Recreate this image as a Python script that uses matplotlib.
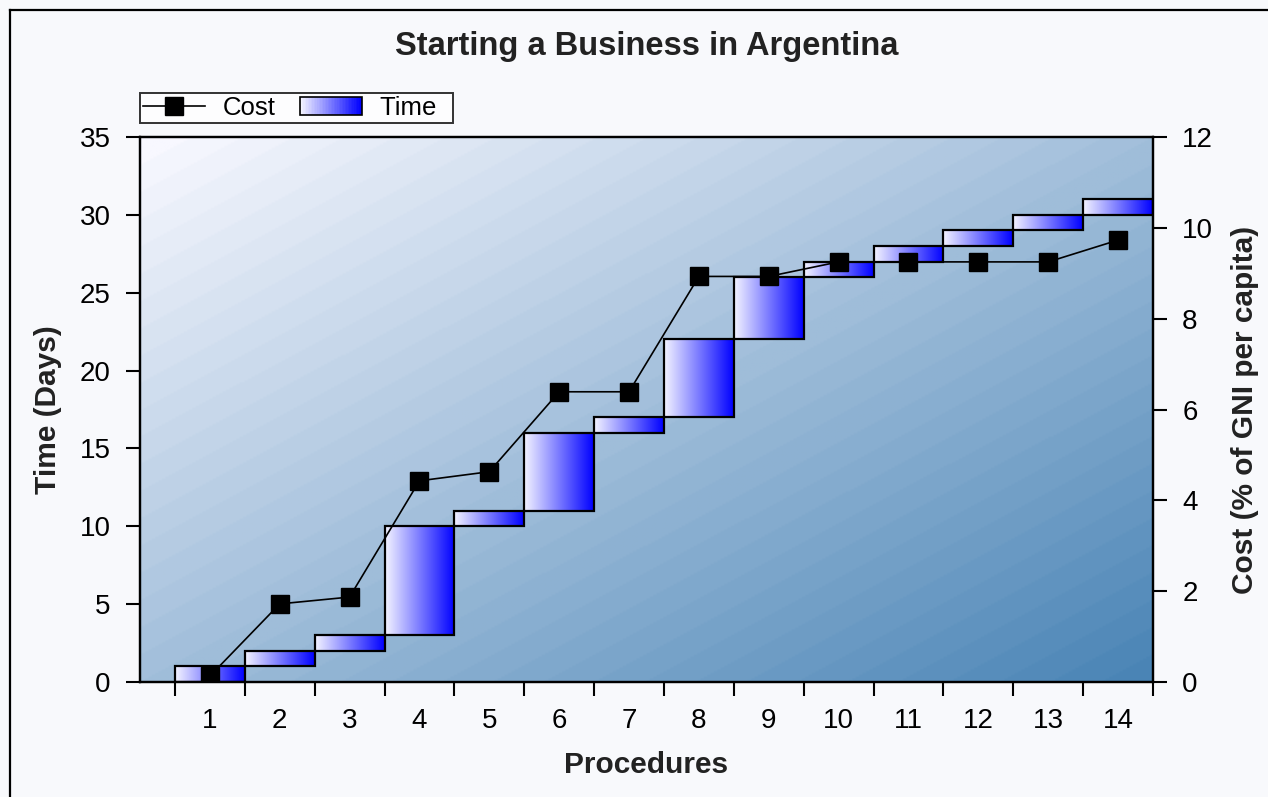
import numpy as np
import matplotlib
matplotlib.use("Agg")
import matplotlib.pyplot as plt
from matplotlib.patches import Rectangle
from matplotlib.lines import Line2D
from matplotlib.legend_handler import HandlerBase
from matplotlib.colors import LinearSegmentedColormap

# ---- data ----
procedures = list(range(1, 15))
time_start = [0, 1, 2, 3, 10, 11, 16, 17, 22, 26, 27, 28, 29, 30]
time_end = [1, 2, 3, 10, 11, 16, 17, 22, 26, 27, 28, 29, 30, 31]
cost = [0.13, 1.72, 1.87, 4.43, 4.63, 6.39, 6.39, 8.93, 8.93, 9.25, 9.25, 9.25, 9.25, 9.73]
time_ticks = [0, 5, 10, 15, 20, 25, 30, 35]
cost_ticks = [0, 2, 4, 6, 8, 10, 12]

plt.rcParams['font.family'] = ['Liberation Sans', 'DejaVu Sans']

W, H = 1268, 797
fig = plt.figure(figsize=(W / 100, H / 100), dpi=100)
fig.patch.set_facecolor('#f8f9fc')

# outer frame (top and left edges)
fig.add_artist(Line2D([10 / W, 10 / W], [-0.01, 1 - 10 / H], transform=fig.transFigure,
                      color='black', lw=1.6))
fig.add_artist(Line2D([10 / W, 1.01], [1 - 10 / H, 1 - 10 / H], transform=fig.transFigure,
                      color='black', lw=1.6))

x0, x1, y0, y1 = 140, 1153, 137, 682
ax = fig.add_axes([x0 / W, 1 - y1 / H, (x1 - x0) / W, (y1 - y0) / H])

# plot-area background: diagonal gradient with soft banding
c_light = np.array([248, 248, 255]) / 255
c_dark = np.array([70, 130, 180]) / 255
gh, gw = 300, 600
u = np.linspace(0, 1, gw)[None, :]
v = np.linspace(0, 1, gh)[:, None]
t = (u + v) / 2
t = np.floor(t * 40) / 40
bg = c_light[None, None, :] * (1 - t[..., None]) + c_dark[None, None, :] * t[..., None]
ax.imshow(bg, extent=(0, 1, 0, 1), transform=ax.transAxes, aspect='auto',
          interpolation='bilinear', zorder=0)

# floating time bars with horizontal white-to-blue gradient
bar_cmap = LinearSegmentedColormap.from_list('wb', ['#f4f4ff', '#0000ff'])
grad = np.linspace(0, 1, 256)[None, :]
for p, s, e in zip(procedures, time_start, time_end):
    ax.imshow(grad, cmap=bar_cmap, extent=(p - 0.5, p + 0.5, s, e), aspect='auto',
              interpolation='bilinear', zorder=2)
    ax.add_patch(Rectangle((p - 0.5, s), 1, e - s, fill=False, ec='black', lw=1.6, zorder=3))

ax.set_xlim(0, 14.5)
ax.set_ylim(0, 35)
ax.set_yticks(time_ticks)
ax.set_xticks(np.arange(0.5, 15, 1))
ax.set_xticklabels([])
ax.set_xticks(procedures, minor=True)
ax.set_xticklabels([str(p) for p in procedures], minor=True)
ax.tick_params(axis='x', which='major', direction='out', length=10, width=1.5)
ax.tick_params(axis='x', which='minor', length=0, pad=19, labelsize=20)
ax.tick_params(axis='y', direction='out', length=10, width=1.5, pad=11, labelsize=20)
for sp in ax.spines.values():
    sp.set_linewidth(1.6)

# cost line on the secondary axis
ax2 = ax.twinx()
ax2.plot(procedures, cost, color='black', lw=1.2, marker='s', markersize=12.5,
         markerfacecolor='black', markeredgecolor='black', zorder=5)
ax2.set_ylim(0, 12)
ax2.set_yticks(cost_ticks)
ax2.tick_params(axis='y', direction='out', length=10, width=1.5, pad=11, labelsize=20)
for sp in ax2.spines.values():
    sp.set_linewidth(1.6)

# labels and title
fig.text(0.5 * (x0 + x1) / W, 1 - 47 / H, 'Starting a Business in Argentina',
         ha='center', va='center', fontsize=23.5, fontweight='bold', color='#222222')
fig.text(0.5 * (x0 + x1) / W, 1 - 765 / H, 'Procedures', ha='center', va='center',
         fontsize=21.5, fontweight='bold', color='#222222')
fig.text(48 / W, 1 - 0.5 * (y0 + y1) / H, 'Time (Days)', ha='center', va='center',
         rotation=90, fontsize=21.5, fontweight='bold', color='#222222')
fig.text(1245 / W, 1 - 0.5 * (y0 + y1) / H, 'Cost (% of GNI per capita)', ha='center',
         va='center', rotation=90, fontsize=21.5, fontweight='bold', color='#222222')


class GradientHandler(HandlerBase):
    def create_artists(self, legend, orig_handle, xdescent, ydescent, width, height,
                       fontsize, trans):
        n = 40
        arts = []
        for k in range(n):
            arts.append(Rectangle((-xdescent + k * width / n, -ydescent), width / n + 0.3,
                                  height, fc=bar_cmap(k / (n - 1)), ec='none',
                                  transform=trans))
        arts.append(Rectangle((-xdescent, -ydescent), width, height, fill=False,
                              ec='black', lw=1.2, transform=trans))
        return arts


cost_handle = Line2D([], [], color='black', lw=1.2, marker='s', markersize=12.5,
                     markerfacecolor='black')
time_handle = Rectangle((0, 0), 1, 1)
leg = fig.legend([cost_handle, time_handle], ['Cost', 'Time  '], ncol=2,
                 loc='lower left', bbox_to_anchor=(x0 / W, 1 - 123 / H),
                 bbox_transform=fig.transFigure, handler_map={time_handle: GradientHandler()},
                 fontsize=18.5, frameon=True, fancybox=False, edgecolor='black',
                 handlelength=2.4, handleheight=0.66, handletextpad=0.7,
                 columnspacing=0.95, borderpad=0.12, borderaxespad=0)
leg.get_frame().set_linewidth(1.4)
leg.get_frame().set_facecolor('white')

fig.savefig('out.png', dpi=100, facecolor=fig.get_facecolor())
